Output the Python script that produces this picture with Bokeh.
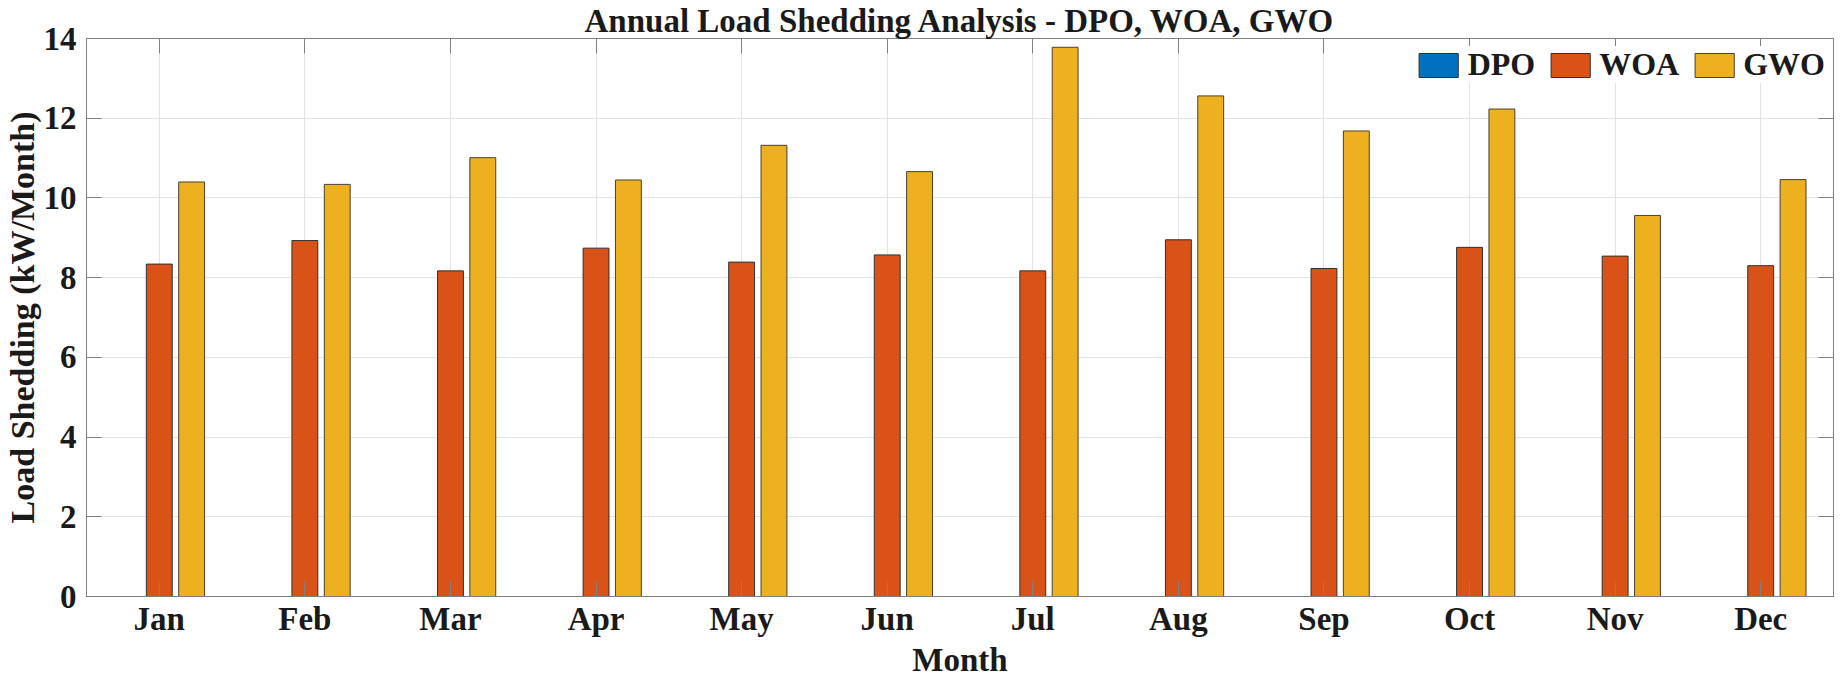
from bokeh.plotting import figure
from bokeh.models import (ColumnDataSource, FixedTicker, LinearAxis, Range1d, Legend,
                          LegendItem, CustomJSTickFormatter, Title)
from bokeh.transform import dodge
from bokeh.embed import file_html
from bokeh.resources import INLINE

months = ["Jan", "Feb", "Mar", "Apr", "May", "Jun", "Jul", "Aug", "Sep", "Oct", "Nov", "Dec"]
dpo = [0, 0, 0, 0, 0, 0, 0, 0, 0, 0, 0, 0]
woa = [8.34, 8.93, 8.17, 8.74, 8.39, 8.57, 8.17, 8.95, 8.23, 8.76, 8.54, 8.30]
gwo = [10.40, 10.34, 11.01, 10.45, 11.32, 10.66, 13.78, 12.56, 11.68, 12.23, 9.56, 10.46]
y_ticks = [0, 2, 4, 6, 8, 10, 12, 14]

FONT = "Liberation Serif"
TXT = "#1a1a1a"
FRAME = "#808080"

xs = list(range(1, len(months) + 1))
src = ColumnDataSource(dict(x=xs, dpo=dpo, woa=woa, gwo=gwo))

p = figure(width=1836, height=677, output_backend="svg", toolbar_location=None,
           x_range=Range1d(0.5, 12.5), y_range=Range1d(0, 14),
           min_border_left=74, min_border_right=3, min_border_top=33, min_border_bottom=60)

p.title.text = "Annual Load Shedding Analysis - DPO, WOA, GWO"
p.title.align = "center"
p.title.text_font = FONT
p.title.text_font_size = "33px"
p.title.text_font_style = "bold"
p.title.text_color = TXT
p.title.standoff = 0
p.title.offset = 0

bw = 0.1778
off = 0.2222
r1 = p.vbar(x=dodge("x", -off), top="dpo", width=bw, source=src,
            fill_color="#0072BD", line_color="#303030", line_width=1)
r2 = p.vbar(x=dodge("x", 0), top="woa", width=bw, source=src,
            fill_color="#D95319", line_color="#303030", line_width=1)
r3 = p.vbar(x=dodge("x", off), top="gwo", width=bw, source=src,
            fill_color="#EDB120", line_color="#4a4030", line_width=1)

xt = FixedTicker(ticks=xs)
yt = FixedTicker(ticks=y_ticks)

p.xaxis.ticker = xt
p.xaxis.major_label_overrides = {i: m for i, m in zip(xs, months)}
p.yaxis.ticker = yt
p.yaxis.axis_label = "Load Shedding (kW/Month)"

for ax in (p.xaxis[0], p.yaxis[0]):
    ax.axis_label_text_font = FONT
    ax.axis_label_text_font_style = "bold"
    ax.axis_label_text_color = TXT
    ax.major_label_text_font = FONT
    ax.major_label_text_font_size = "33px"
    ax.major_label_text_font_style = "bold"
    ax.major_label_text_color = TXT
    ax.axis_line_color = FRAME
    ax.major_tick_line_color = FRAME
    ax.major_tick_in = 15
    ax.major_tick_out = 0
    ax.minor_tick_line_color = None

p.yaxis.axis_label_standoff = 0
p.yaxis.axis_label_text_font_size = "34px"
p.xaxis.major_label_standoff = 4
p.yaxis.major_label_standoff = 10

xlabel = Title(text="Month", align="center", text_font=FONT, text_font_size="33px",
               text_font_style="bold", text_color=TXT, standoff=0, offset=0,
               vertical_align="bottom")
p.add_layout(xlabel, "below")

blank = CustomJSTickFormatter(code="return ''")
top_ax = LinearAxis(ticker=xt, formatter=blank, major_label_standoff=0,
                    axis_line_color=FRAME, major_tick_line_color=FRAME,
                    major_tick_in=15, major_tick_out=0, minor_tick_line_color=None)
right_ax = LinearAxis(ticker=yt, formatter=blank, major_label_standoff=0,
                      axis_line_color=FRAME, major_tick_line_color=FRAME,
                      major_tick_in=15, major_tick_out=0, minor_tick_line_color=None)
p.add_layout(top_ax, "above")
p.add_layout(right_ax, "right")

p.xgrid.ticker = xt
p.ygrid.ticker = yt
p.grid.grid_line_color = "#e3e3e3"
p.grid.grid_line_width = 1
p.outline_line_color = FRAME

legend = Legend(items=[LegendItem(label="DPO", renderers=[r1]),
                       LegendItem(label="WOA", renderers=[r2]),
                       LegendItem(label="GWO", renderers=[r3])],
                orientation="horizontal", location="top_right",
                label_text_font=FONT, label_text_font_size="32px", label_text_font_style="bold",
                label_text_color=TXT, glyph_width=49, glyph_height=30,
                border_line_color=None, background_fill_color="white", background_fill_alpha=1.0,
                spacing=10, padding=11, margin=8, label_standoff=5)
p.add_layout(legend, "center")

open("out.html", "w").write(file_html(p, INLINE))
